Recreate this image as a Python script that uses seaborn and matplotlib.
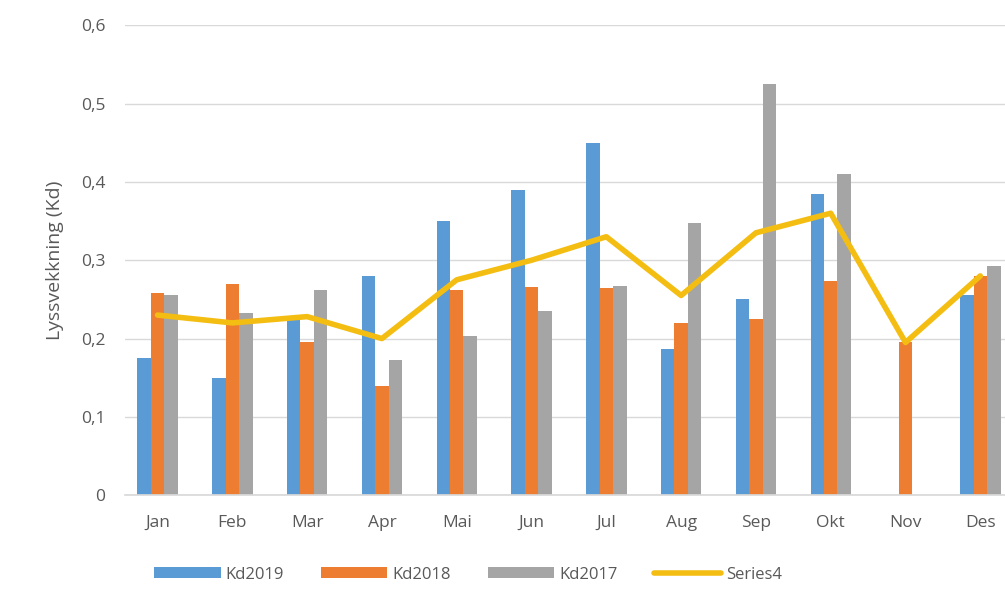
import matplotlib
matplotlib.use("Agg")
import matplotlib.pyplot as plt
import seaborn as sns
import numpy as np
import pandas as pd

months = ["Jan","Feb","Mar","Apr","Mai","Jun","Jul","Aug","Sep","Okt","Nov","Des"]
kd2019 = [0.175,0.15,0.225,0.28,0.35,0.39,0.45,0.187,0.25,0.385,np.nan,0.255]
kd2018 = [0.258,0.27,0.195,0.14,0.262,0.266,0.265,0.22,0.225,0.273,0.195,0.28]
kd2017 = [0.255,0.232,0.262,0.173,0.203,0.235,0.267,0.348,0.525,0.41,np.nan,0.293]
series4 = [0.23,0.22,0.228,0.2,0.275,0.3,0.33,0.255,0.335,0.36,0.195,0.28]

sns.set_theme(style="white")
plt.rcParams['font.family'] = ['Open Sans', 'DejaVu Sans']

df = pd.DataFrame({"month": months*3,
                   "val": kd2019+kd2018+kd2017,
                   "series": ["Kd2019"]*12+["Kd2018"]*12+["Kd2017"]*12})

fig = plt.figure(figsize=(10.05,6.01), dpi=100)
ax = fig.add_axes([0.124, 0.176, 0.876, 0.782])
ax.yaxis.grid(True, color="#d9d9d9", lw=1)
ax.set_axisbelow(True)
sns.barplot(data=df, x="month", y="val", hue="series", order=months,
            palette=["#5b9bd5","#ed7d31","#a5a5a5"], width=0.54, gap=0.0,
            ax=ax, saturation=1, linewidth=0)
ax.plot(np.arange(12), series4, color="#f4bd12", lw=4, label="Series4", zorder=5)
ax.set_ylim(0,0.6)
ax.set_xlim(-0.44,11.33)
ax.set_yticks(np.arange(0,0.61,0.1))
ax.set_yticklabels(["0"]+[f"0,{i}" for i in range(1,7)])
ax.tick_params(axis="both", colors="#595959", labelsize=12.5, length=0, pad=14)
ax.set_xlabel("")
ax.set_ylabel("Lyssvekkning (Kd)", fontsize=14, color="#595959", labelpad=12)
for s in ["top","right","left"]:
    ax.spines[s].set_visible(False)
ax.spines["bottom"].set_color("#d9d9d9")
h, l = ax.get_legend_handles_labels()
ax.legend(h, l, loc="upper center", bbox_to_anchor=(0.39,-0.12), ncol=4,
          frameon=False, fontsize=12, labelcolor="#595959",
          handlelength=4, handleheight=0.6, columnspacing=2.2, handletextpad=0.3)
fig.savefig("out.png", dpi=100)
